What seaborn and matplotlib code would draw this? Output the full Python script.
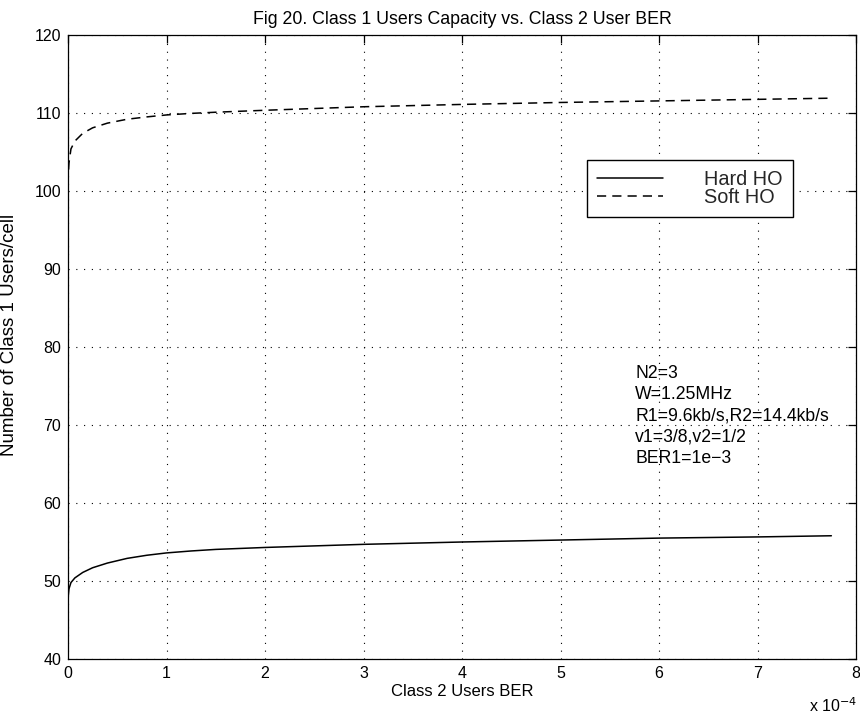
import numpy as np
import pandas as pd
import matplotlib
matplotlib.use("Agg")
import matplotlib.pyplot as plt
import seaborn as sns
from matplotlib.lines import Line2D

# ---- data (BER in units of 1e-4) ----
ber_e4 = [0, 0.002, 0.01, 0.03, 0.07, 0.15, 0.25, 0.4, 0.6, 0.8, 1.0, 1.25, 1.5, 2.0,
          3.0, 4.0, 5.0, 6.0, 7.0, 7.75]
hard_ho = [47.3, 48.0, 49.0, 49.8, 50.4, 51.1, 51.7, 52.3, 52.9, 53.3, 53.6, 53.85, 54.05,
           54.3, 54.7, 55.0, 55.25, 55.5, 55.65, 55.8]
soft_ho = [100.8, 102.0, 103.6, 105.4, 106.4, 107.4, 108.1, 108.7, 109.2, 109.5, 109.75,
           109.95, 110.1, 110.35, 110.8, 111.1, 111.35, 111.55, 111.75, 111.9]
series_names = ["Hard HO", "Soft HO"]
x_tick_vals = [0, 1, 2, 3, 4, 5, 6, 7, 8]
y_tick_vals = [40, 50, 60, 70, 80, 90, 100, 110, 120]
note_lines = ["N2=3", "W=1.25MHz", "R1=9.6kb/s,R2=14.4kb/s", "v1=3/8,v2=1/2", "BER1=1e\u22123"]

ber = [v * 1e-4 for v in ber_e4]
df = pd.DataFrame({
    "BER": ber + ber,
    "users": hard_ho + soft_ho,
    "scheme": [series_names[0]] * len(ber) + [series_names[1]] * len(ber),
})

sns.set_theme(style="white")
plt.rcParams['font.family'] = ['Liberation Sans', 'DejaVu Sans']

fig = plt.figure(figsize=(8.6, 7.13), dpi=100)
ax = fig.add_axes([68 / 860, 1 - 659 / 713, (856 - 68) / 860, (659 - 35) / 713])

sns.lineplot(data=df, x="BER", y="users", hue="scheme", style="scheme",
             palette=["black", "black"],
             dashes={series_names[0]: "", series_names[1]: (6, 4)},
             linewidth=1.1, ax=ax, legend=False, estimator=None, sort=False)

ax.set_xlim(0, 8e-4)
ax.set_ylim(40, 120)
ax.set_xticks([v * 1e-4 for v in x_tick_vals])
ax.set_xticklabels([str(v) for v in x_tick_vals])
ax.set_yticks(y_tick_vals)
ax.set_yticklabels([str(v) for v in y_tick_vals])

ax.grid(True, color="black", linestyle=(0, (1, 6)), linewidth=0.8)
for s in ax.spines.values():
    s.set_visible(True)
    s.set_color("black")
    s.set_linewidth(0.9)
ax.tick_params(direction="in", top=True, right=True, length=6, width=0.9,
               labelsize=11.5, colors="black", pad=5)

ax.set_xlabel("Class 2 Users BER", fontsize=12, color="black", labelpad=2)
ax.set_ylabel("Number of Class 1 Users/cell", fontsize=13.5, color="black")
ax.yaxis.set_label_coords(-(68 - 18) / 788, 0.519)
ax.set_title("Fig 20. Class 1 Users Capacity vs. Class 2 User BER", fontsize=12.8,
             color="black", pad=8)

fig.text(0.997, 0.011, "x 10$^{-4}$", ha="right", va="center", fontsize=11.5, color="black")

ax.text(5.76e-4, 71.2, "\n".join(note_lines), ha="left", va="center",
        fontsize=12.7, linespacing=1.33, color="black")

handles = [Line2D([], [], color="black", lw=1.1),
           Line2D([], [], color="black", lw=1.1, dashes=(6, 4))]
leg = ax.legend(handles, series_names, loc="upper left",
                bbox_to_anchor=(0.659, 0.80), frameon=True, fancybox=False,
                edgecolor="black", framealpha=1, fontsize=14.3,
                handlelength=3.3, handletextpad=2.1, borderpad=0.5,
                labelspacing=-0.05, borderaxespad=0)
leg.get_frame().set_linewidth(1.0)

fig.savefig("out.png", dpi=100)
